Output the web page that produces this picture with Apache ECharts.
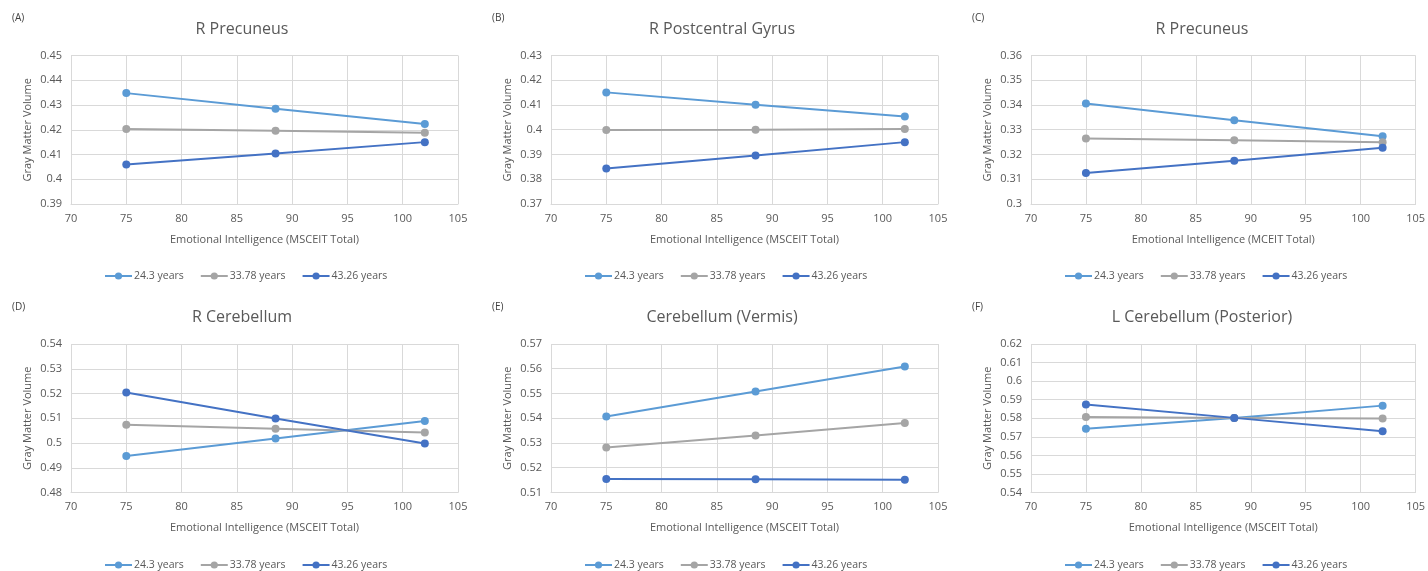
<!DOCTYPE html>
<html><head><meta charset="utf-8">
<script src="https://cdn.jsdelivr.net/npm/echarts@6/dist/echarts.min.js"></script>
<style>html,body{margin:0;padding:0;background:#fff}#c{width:1428px;height:571px}</style>
</head><body><div id="c"></div><script>
// ---- data ----
const xValues = [75, 88.5, 102];
const seriesNames = ['24.3 years', '33.78 years', '43.26 years'];
const panelLetters = ['(A)', '(B)', '(C)', '(D)', '(E)', '(F)'];
const panelTitles = ['R Precuneus', 'R Postcentral Gyrus', 'R Precuneus', 'R Cerebellum', 'Cerebellum (Vermis)', 'L Cerebellum (Posterior)'];
const xAxisNames = ['Emotional Intelligence (MSCEIT Total)', 'Emotional Intelligence (MSCEIT Total)', 'Emotional Intelligence (MCEIT Total)',
  'Emotional Intelligence (MSCEIT Total)', 'Emotional Intelligence (MSCEIT Total)', 'Emotional Intelligence (MSCEIT Total)'];
const yAxisName = 'Gray Matter Volume';
const xMin = 70, xMax = 105, xStep = 5;
const yMins = [0.39, 0.37, 0.30, 0.48, 0.51, 0.54];
const yMaxs = [0.45, 0.43, 0.36, 0.54, 0.57, 0.62];
const yStep = 0.01;
// values per panel (A..F), at xValues
const values24_3 = [
  [0.4348, 0.4285, 0.4223],
  [0.4151, 0.4101, 0.4054],
  [0.3406, 0.3338, 0.3274],
  [0.4947, 0.5018, 0.5089],
  [0.5407, 0.5508, 0.5609],
  [0.5743, 0.5802, 0.5868]
];
const values33_78 = [
  [0.4203, 0.4196, 0.4188],
  [0.3999, 0.4000, 0.4003],
  [0.3265, 0.3258, 0.3249],
  [0.5074, 0.5058, 0.5042],
  [0.5282, 0.5330, 0.5381],
  [0.5807, 0.5802, 0.5798]
];
const values43_26 = [
  [0.4060, 0.4104, 0.4150],
  [0.3843, 0.3896, 0.3950],
  [0.3125, 0.3175, 0.3227],
  [0.5204, 0.5099, 0.4998],
  [0.5155, 0.5154, 0.5152],
  [0.5874, 0.5802, 0.5730]
];
// ---- layout / style ----
const colors = ['#5B9BD5', '#A5A5A5', '#4472C4'];
const textColor = '#595959';
const gridColor = '#D9D9D9';
const FONT = 'Open Sans';
const colX = [0, 480, 960];
const rowY = [0, 289];
const plotLeft = 71, plotW = 387;
const plotTop = [55.5, 344], plotH = 148.5;

const grids = [], xAxes = [], yAxes = [], series = [], legends = [], graphics = [];
const allVals = [values24_3, values33_78, values43_26];
for (let p = 0; p < 6; p++) {
  const c = p % 3, r = Math.floor(p / 3);
  const ox = colX[c];
  grids.push({ left: ox + plotLeft, top: plotTop[r], width: plotW, height: plotH, containLabel: false });
  xAxes.push({
    type: 'value', gridIndex: p, min: xMin, max: xMax, interval: xStep,
    name: xAxisNames[p], nameLocation: 'middle', nameGap: 30,
    nameTextStyle: { color: textColor, fontSize: 11, fontFamily: FONT },
    axisLine: { show: true, lineStyle: { color: gridColor } }, axisTick: { show: false },
    axisLabel: { color: textColor, fontSize: 11, fontFamily: FONT, margin: 9 },
    splitLine: { show: true, lineStyle: { color: gridColor, width: 1 } }
  });
  yAxes.push({
    type: 'value', gridIndex: p, min: yMins[p], max: yMaxs[p], interval: yStep,
    name: yAxisName, nameLocation: 'middle', nameGap: 38,
    nameTextStyle: { color: textColor, fontSize: 11, fontFamily: FONT },
    axisLine: { show: false }, axisTick: { show: false },
    axisLabel: { color: textColor, fontSize: 11, fontFamily: FONT, margin: 9 },
    splitLine: { show: true, lineStyle: { color: gridColor, width: 1 } }
  });
  for (let s = 0; s < 3; s++) {
    series.push({
      type: 'line', name: seriesNames[s], xAxisIndex: p, yAxisIndex: p,
      data: xValues.map((x, i) => [x, allVals[s][p][i]]),
      symbol: 'circle', symbolSize: 8, showSymbol: true,
      lineStyle: { color: colors[s], width: 2 }, itemStyle: { color: colors[s] },
      animation: false, z: 3 + s
    });
  }
  legends.push({
    data: seriesNames, left: ox + 104, top: (r === 0 ? 275 : 564) - 4.5, padding: 0,
    itemWidth: 27, itemHeight: 9, itemGap: 16, selectedMode: false,
    textStyle: { color: textColor, fontSize: 10.5, fontFamily: FONT, padding: [0, 0, 0, -3] }
  });
  graphics.push({
    type: 'text', left: ox + 12, top: rowY[r] + 13,
    style: { text: panelLetters[p], fill: '#404040', font: '10px "' + FONT + '"' }
  });
  graphics.push({
    type: 'text', x: ox + 242, y: (r === 0 ? 29 : 317),
    style: { text: panelTitles[p], fill: textColor, font: '16px "' + FONT + '"', align: 'center', verticalAlign: 'middle' }
  });
}
const chart = echarts.init(document.getElementById('c'), null, { renderer: 'canvas' });
chart.setOption({
  animation: false, backgroundColor: '#fff',
  grid: grids, xAxis: xAxes, yAxis: yAxes, series: series, legend: legends, graphic: graphics
});
</script></body></html>
